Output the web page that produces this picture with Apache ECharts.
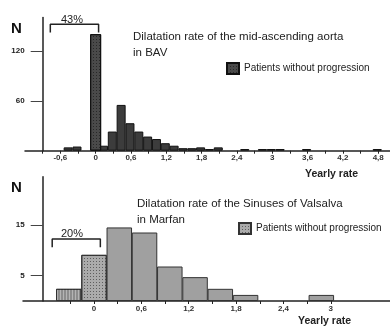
<!DOCTYPE html>
<html>
<head>
<meta charset="utf-8">
<script src="https://cdn.jsdelivr.net/npm/echarts@6/dist/echarts.min.js"></script>
<style>
    html, body { margin: 0; padding: 0; background: #fff; }
    #chart1 { width: 390px; height: 326px; }
</style>
</head>
<body>
<div id="chart1"></div>
<script>
// BAV, bins of 0.15
var topBins = [-0.45, -0.3, 0.15, 0.3, 0.45, 0.6, 0.75, 0.9, 1.05, 1.2, 1.35, 1.5, 1.65, 1.8, 1.95, 2.1, 2.55, 2.85, 3.0, 3.15, 3.6, 4.8];
var topCounts = [4, 5, 6, 23, 55, 33, 23, 17, 14, 9, 6, 3, 3, 4, 2, 4, 2, 2, 2, 2, 2, 2];
var topProgBin = [0];
var topProgCount = [140];
var topLabelVals = [-0.6, 0, 0.6, 1.2, 1.8, 2.4, 3, 3.6, 4.2, 4.8];
var topTickVals = [-0.9, -0.6, -0.3, 0, 0.3, 0.6, 0.9, 1.2, 1.5, 1.8, 2.1, 2.4, 2.7, 3, 3.3, 3.6, 3.9, 4.2, 4.5, 4.8];
var topYLabels = [60, 120];
var topBracket = [[-0.77, 142], [-0.77, 152], [0.05, 152], [0.05, 142]];

// Marfan, bins of 0.32
var botBins = [-0.32, 0.32, 0.64, 0.96, 1.28, 1.6, 1.92, 2.88];
var botCounts = [2.4, 14.5, 13.5, 6.8, 4.7, 2.4, 1.2, 1.2];
var botProgBin = [0];
var botProgCount = [9.1];
var botLabelVals = [0, 0.6, 1.2, 1.8, 2.4, 3];
var botTickVals = [-0.3, 0, 0.3, 0.6, 0.9, 1.2, 1.5, 1.8, 2.1, 2.4, 2.7, 3];
var botYLabels = [5, 15];
var botBracket = [[-0.53, 10.6], [-0.53, 12.2], [0.08, 12.2], [0.08, 10.6]];

var legendText = 'Patients without progression';

drawChart1();

function pairs(xs, ys) {
    var out = [];
    for (var i = 0; i < xs.length; i++) {
        out.push([xs[i], ys[i]]);
    }
    return out;
}

function commaLabel(v) {
    return String(+Number(v).toFixed(1)).replace('.', ',');
}

function drawChart1() {
    var dom1 = document.getElementById("chart1");
    var myChart1 = echarts.init(dom1);
    var font = 'Liberation Sans, Arial, sans-serif';
    var axisColor = '#222';

    var botData = [];
    for (var i = 0; i < botBins.length; i++) {
        var item = { value: [botBins[i], botCounts[i]] };
        if (botBins[i] < 0) {
            item.itemStyle = {
                color: '#8c8c8c',
                decal: {
                    symbol: 'rect', symbolSize: 1,
                    dashArrayX: [1, 2], dashArrayY: [1, 0],
                    color: 'rgba(255,255,255,0.35)'
                }
            };
        }
        botData.push(item);
    }

    function xAxisFor(idx, min, max, labels, ticks, margin) {
        return {
            type: 'value', gridIndex: idx, min: min, max: max,
            splitLine: { show: false },
            axisLine: { onZero: false, lineStyle: { color: axisColor, width: 1.5 } },
            axisTick: { show: true, length: 3, customValues: ticks, lineStyle: { color: axisColor } },
            axisLabel: {
                customValues: labels, margin: margin, formatter: commaLabel,
                fontSize: 8, fontWeight: 'bold', color: '#333', fontFamily: font
            }
        };
    }

    function yAxisFor(idx, max, labels, offset) {
        return {
            type: 'value', gridIndex: idx, min: 0, max: max, offset: offset,
            splitLine: { show: false },
            axisLine: { show: true, onZero: false, lineStyle: { color: axisColor, width: 1.5 } },
            axisTick: { show: true, length: 12, customValues: labels, lineStyle: { color: '#444' } },
            axisLabel: {
                customValues: labels, margin: 18,
                fontSize: 8, fontWeight: 'bold', color: '#222', fontFamily: font
            }
        };
    }

    var dots = {
        symbol: 'rect', symbolSize: 1,
        dashArrayX: [1, 2], dashArrayY: [1, 2],
        color: 'rgba(0,0,0,0.45)'
    };

    option = null;
    option = {
        animation: false,
        textStyle: { fontFamily: font },
        title: [{
            text: 'Dilatation rate of the mid-ascending aorta\nin BAV',
            left: 128, top: 24,
            textStyle: { fontSize: 11.5, fontWeight: 'normal', color: '#222', lineHeight: 15.7, fontFamily: font }
        }, {
            text: 'Dilatation rate of the Sinuses of Valsalva\nin Marfan',
            left: 132, top: 191,
            textStyle: { fontSize: 11.5, fontWeight: 'normal', color: '#222', lineHeight: 15.7, fontFamily: font }
        }],
        legend: [{
            data: ['progTop'],
            left: 226, top: 62, padding: 0,
            icon: 'rect', itemWidth: 12, itemHeight: 11,
            formatter: function () { return legendText; },
            textStyle: { fontSize: 10, color: '#222', fontFamily: font }
        }, {
            data: ['progBot'],
            left: 238, top: 222, padding: 0,
            icon: 'rect', itemWidth: 12, itemHeight: 11,
            formatter: function () { return legendText; },
            textStyle: { fontSize: 10, color: '#222', fontFamily: font }
        }],
        grid: [
            { left: 25, right: 0, top: 17.5, height: 133.2 },
            { left: 23, right: 0, top: 176.7, height: 124.3 }
        ],
        xAxis: [
            xAxisFor(0, -1.2, 5.0, topLabelVals, topTickVals, 3),
            xAxisFor(1, -0.9, 3.75, botLabelVals, botTickVals, 4)
        ],
        yAxis: [
            yAxisFor(0, 160, topYLabels, -17.7),
            yAxisFor(1, 24.5, botYLabels, -19.7)
        ],
        graphic: [
            { type: 'text', left: 11, top: 21, style: { text: 'N', fill: '#111', font: 'bold 15px ' + font } },
            { type: 'text', left: 11, top: 180, style: { text: 'N', fill: '#111', font: 'bold 15px ' + font } },
            { type: 'text', left: 61, top: 14, style: { text: '43%', fill: '#222', font: '11px ' + font } },
            { type: 'text', left: 61, top: 228, style: { text: '20%', fill: '#222', font: '11px ' + font } },
            { type: 'text', left: 305, top: 169, style: { text: 'Yearly rate', fill: '#222', font: 'bold 10.5px ' + font } },
            { type: 'text', left: 298, top: 316, style: { text: 'Yearly rate', fill: '#222', font: 'bold 10.5px ' + font } }
        ],
        series: [{
            name: 'top',
            type: 'bar',
            xAxisIndex: 0, yAxisIndex: 0,
            barWidth: 9, barGap: '-100%',
            itemStyle: { color: '#3c3c3c', borderColor: '#111', borderWidth: 1 },
            data: pairs(topBins, topCounts)
        }, {
            name: 'progTop',
            type: 'bar',
            xAxisIndex: 0, yAxisIndex: 0,
            barWidth: 11, barGap: '-100%',
            itemStyle: { color: '#4a4a4a', borderColor: '#111', borderWidth: 1, decal: dots },
            data: pairs(topProgBin, topProgCount)
        }, {
            name: 'bot',
            type: 'bar',
            xAxisIndex: 1, yAxisIndex: 1,
            barWidth: 25.5, barGap: '-100%',
            itemStyle: { color: '#a0a0a0', borderColor: '#333', borderWidth: 1 },
            data: botData
        }, {
            name: 'progBot',
            type: 'bar',
            xAxisIndex: 1, yAxisIndex: 1,
            barWidth: 25.5, barGap: '-100%',
            itemStyle: { color: '#ababab', borderColor: '#333', borderWidth: 1, decal: dots },
            data: pairs(botProgBin, botProgCount)
        }, {
            name: 'bracketTop',
            type: 'line',
            xAxisIndex: 0, yAxisIndex: 0,
            symbol: 'none',
            lineStyle: { color: '#222', width: 1.5 },
            data: topBracket
        }, {
            name: 'bracketBot',
            type: 'line',
            xAxisIndex: 1, yAxisIndex: 1,
            symbol: 'none',
            lineStyle: { color: '#222', width: 1.5 },
            data: botBracket
        }]
    };
    if (option && typeof option === "object") {
        myChart1.setOption(option, true);
        window.onresize = myChart1.resize;
    }
}
</script>
</body>
</html>
